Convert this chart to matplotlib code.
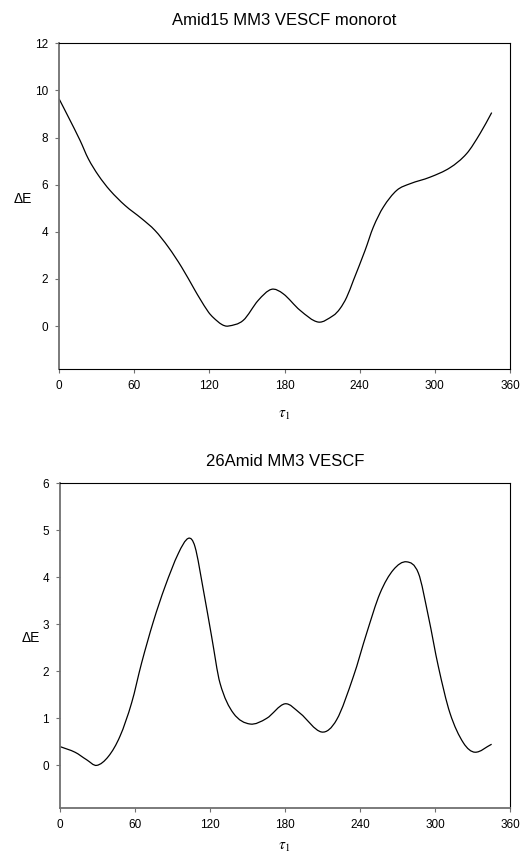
import matplotlib
matplotlib.use("Agg")
import matplotlib.pyplot as plt
from matplotlib.path import Path
from matplotlib.patches import PathPatch

plt.rcParams['font.family'] = ['Liberation Sans', 'DejaVu Sans']
plt.rcParams['mathtext.fontset'] = 'stix'

# Amid15 MM3 VESCF monorot
tau_a = [0, 7.5, 16.8, 23.4, 31.4, 40.7, 52.7, 66, 76.6, 87.3, 97.9, 108.5,
         112.5, 119.2, 123.2, 129.9, 135, 147, 159, 169.6, 179, 192.4, 207,
         219, 224.3, 229.6, 235, 244.3, 250.9, 258.9, 269.6, 280.2,
         296.2, 312.1, 325.4, 336.1, 345.4]
de_a = [9.65, 8.87, 7.88, 7.1, 6.4, 5.76, 5.12, 4.56, 4.06, 3.35, 2.5, 1.52,
        1.16, 0.6, 0.36, 0.07, 0.0, 0.24, 1.09, 1.56, 1.37, 0.67, 0.17,
        0.45, 0.74, 1.22, 1.94, 3.21, 4.2, 5.05, 5.76, 6.04,
        6.32, 6.72, 7.32, 8.17, 9.06]

# 26Amid MM3 VESCF
tau_b = [0, 12, 21.3, 29.3, 38.7, 48, 57.3, 65.3, 74.7, 84, 94.7, 102.7,
         108, 114.7, 121.3, 128, 138.7, 152, 165.3, 180, 192, 209.3, 221.3,
         234.7, 245.3, 256, 266.7, 277.3, 286.7, 294.7, 302.7, 312, 322.7,
         332, 345.3]
de_b = [0.40, 0.28, 0.12, 0.0, 0.19, 0.62, 1.33, 2.18, 3.06, 3.8, 4.51, 4.83,
        4.65, 3.73, 2.74, 1.75, 1.11, 0.88, 1.0, 1.31, 1.11, 0.71, 0.97,
        1.89, 2.81, 3.66, 4.16, 4.33, 4.09, 3.17, 2.1, 1.11, 0.48,
        0.28, 0.45]

x_ticks = [0, 60, 120, 180, 240, 300, 360]

W, H = 520, 863
fig = plt.figure(figsize=(W / 100, H / 100), dpi=100)


def fx(px):
    return px / W


def fy(py):
    return 1 - py / H


def smooth_line(ax, xs, ys):
    # spline-style curve through the traced points (cubic Bezier segments)
    n = len(xs)
    slopes = []
    for i in range(n):
        a, b = max(i - 1, 0), min(i + 1, n - 1)
        slopes.append((ys[b] - ys[a]) / (xs[b] - xs[a]))
    verts = [(xs[0], ys[0])]
    codes = [Path.MOVETO]
    for i in range(n - 1):
        dx = (xs[i + 1] - xs[i]) / 3
        verts += [(xs[i] + dx, ys[i] + slopes[i] * dx),
                  (xs[i + 1] - dx, ys[i + 1] - slopes[i + 1] * dx),
                  (xs[i + 1], ys[i + 1])]
        codes += [Path.CURVE4] * 3
    ax.add_patch(PathPatch(Path(verts, codes), facecolor='none',
                           edgecolor='black', lw=0.9))


def style_axes(ax, gray_bottom):
    gray = '#707070'
    ax.spines['left'].set_color(gray)
    ax.spines['left'].set_linewidth(1.3)
    if gray_bottom:
        ax.spines['bottom'].set_color(gray)
        ax.spines['bottom'].set_linewidth(1.3)
    else:
        ax.spines['bottom'].set_color('black')
        ax.spines['bottom'].set_linewidth(0.8)
    for s in ['top', 'right']:
        ax.spines[s].set_color('black')
        ax.spines[s].set_linewidth(0.8)
    ax.tick_params(direction='out', length=3, width=0.8, color=gray,
                   labelsize=8.5, pad=5, top=False, right=False)
    ax.set_xlim(0, 360)
    ax.set_xticks(x_ticks)


# top panel
ax1 = fig.add_axes([fx(59), fy(368.5), fx(510 - 59), (368.5 - 43.3) / H])
smooth_line(ax1, tau_a, de_a)
ax1.set_ylim(-1.8, 12)
ax1.set_yticks([0, 2, 4, 6, 8, 10, 12])
style_axes(ax1, False)
fig.text(fx(284.5), fy(20.7), 'Amid15 MM3 VESCF monorot', ha='center',
         va='center', fontsize=12)
fig.text(fx(22.5), fy(199), 'ΔE', ha='center', va='center', fontsize=10)
fig.text(fx(284), fy(415), r'$\tau_1$', ha='center', va='center', fontsize=11)

# bottom panel
ax2 = fig.add_axes([fx(60), fy(807.7), fx(510 - 60), (807.7 - 483.3) / H])
smooth_line(ax2, tau_b, de_b)
ax2.set_ylim(-0.9, 6)
ax2.set_yticks([0, 1, 2, 3, 4, 5, 6])
style_axes(ax2, True)
fig.text(fx(285), fy(461.7), '26Amid MM3 VESCF', ha='center',
         va='center', fontsize=12)
fig.text(fx(30.8), fy(638.3), 'ΔE', ha='center', va='center', fontsize=10)
fig.text(fx(284), fy(847), r'$\tau_1$', ha='center', va='center', fontsize=11)

fig.savefig('out.png', dpi=100)
